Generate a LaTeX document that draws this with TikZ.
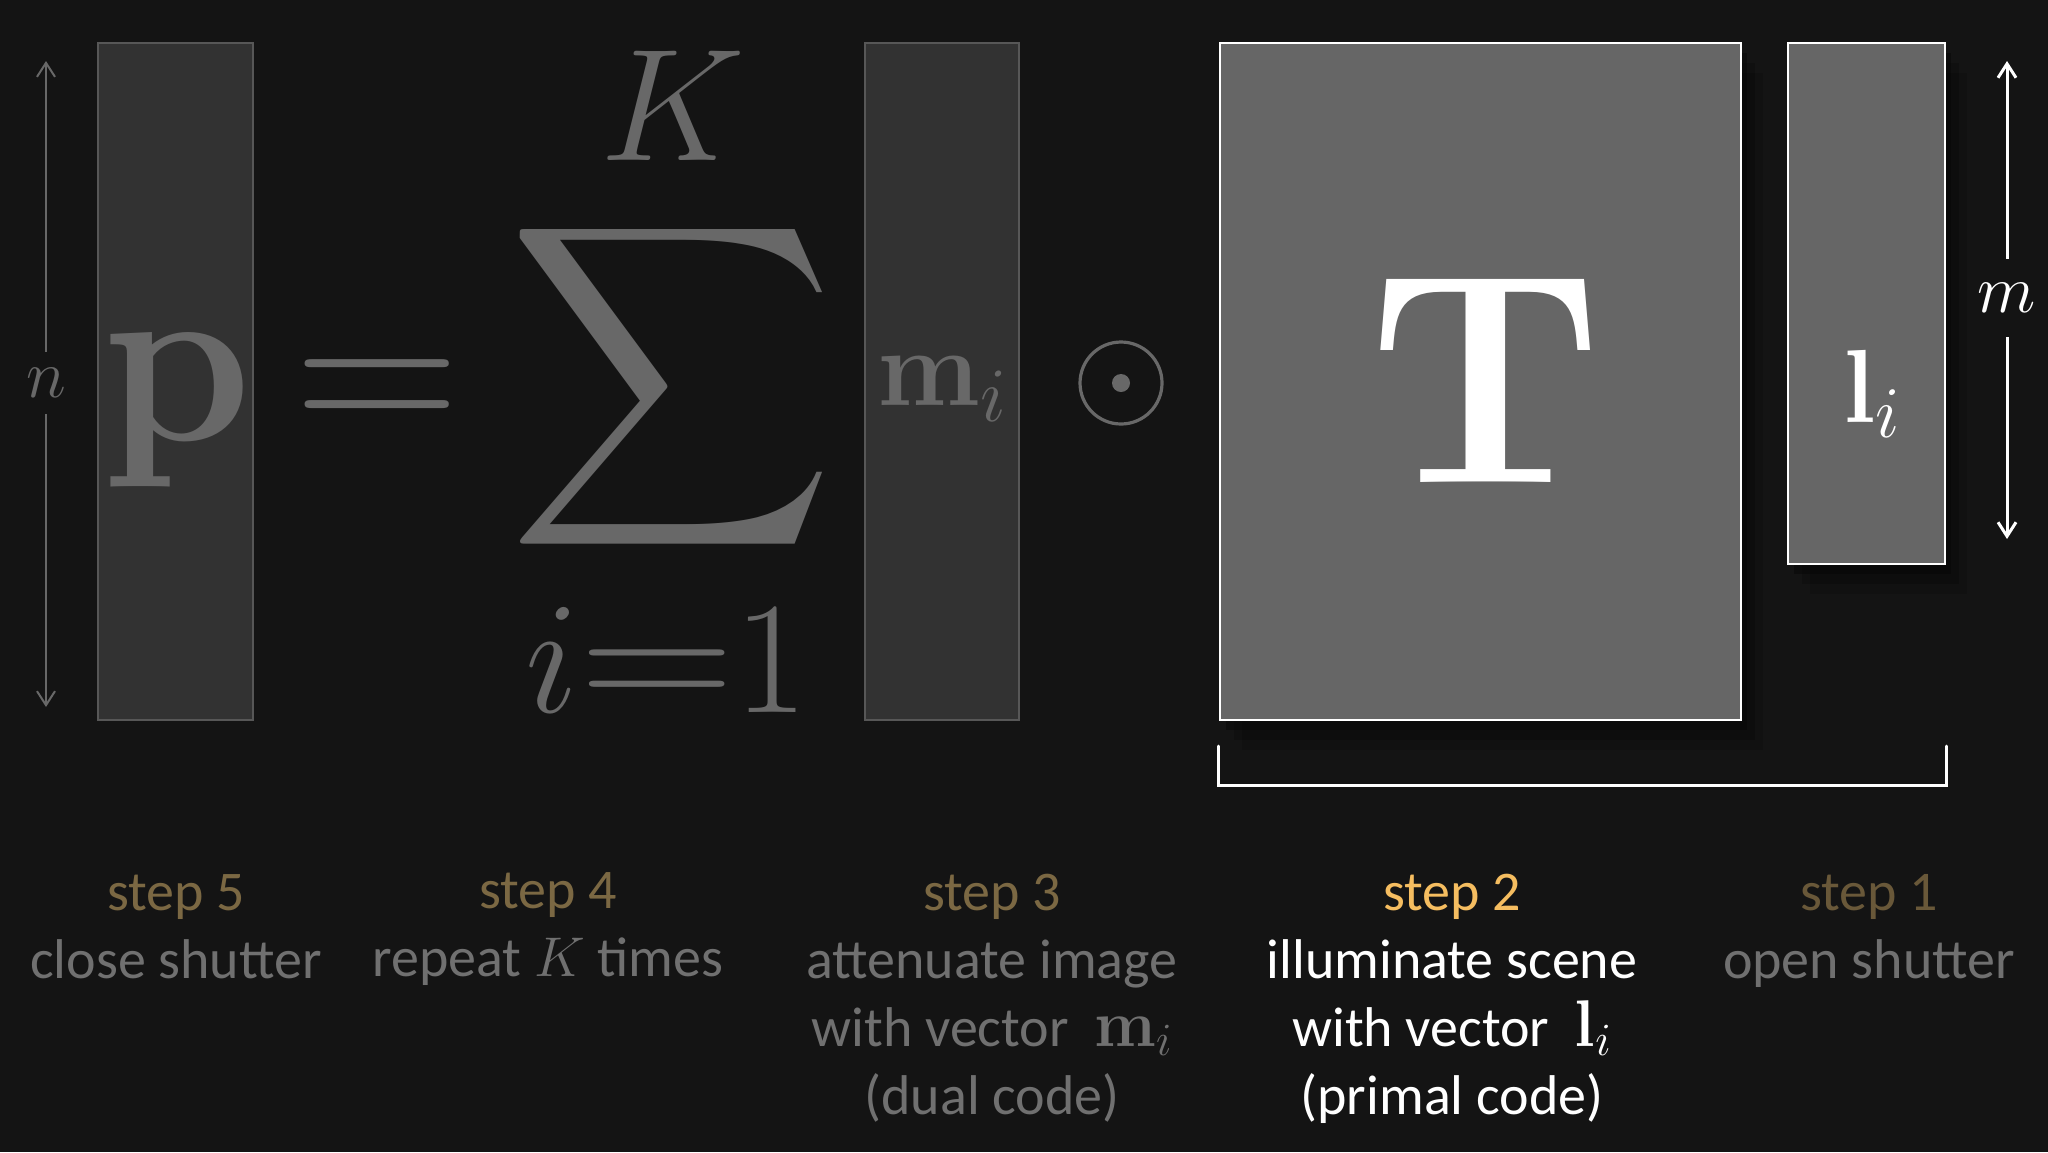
\RequirePackage{fix-cm}
\documentclass[tikz,border=0pt]{standalone}
\usepackage{amsmath}
\usepackage{graphicx}
\usepackage[no-math]{fontspec}
\setmainfont{Carlito}
\usetikzlibrary{arrows.meta}
\usetikzlibrary{shadows}

\definecolor{bgcol}{HTML}{141414}
\definecolor{eqgray}{HTML}{686868}
\definecolor{barfill}{HTML}{323232}
\definecolor{bargray}{HTML}{575757}
\definecolor{litfill}{HTML}{666666}
\definecolor{dimtext}{HTML}{707070}
\definecolor{dimgold}{HTML}{7b6843}
\definecolor{brightgold}{HTML}{f5bd60}

\newcommand{\vecmath}[1]{{\fontsize{33}{34}\selectfont$#1$}}

\begin{document}
\begin{tikzpicture}[x=0.5pt,y=-0.5pt,
    eqtext/.style={text=eqgray, inner sep=0pt},
    darkbar/.style={draw=bargray, fill=barfill, line width=1pt, inner sep=0pt,
      minimum width=77.5pt, minimum height=338.5pt},
    litbar/.style={draw=white, fill=litfill, line width=1.2pt, inner sep=0pt,
      drop shadow={shadow xshift=11pt, shadow yshift=-15pt, opacity=.15, fill=black},
      drop shadow={shadow xshift=7pt, shadow yshift=-10pt, opacity=.2, fill=black},
      drop shadow={shadow xshift=3pt, shadow yshift=-5pt, opacity=.3, fill=black}},
    dimarrow/.style={line width=1pt, -{Straight Barb[length=7pt,width=9pt]}},
    bracket/.style={draw=white, line width=1.5pt, line cap=round},
    steptext/.style={align=center, anchor=base, inner sep=0pt, text=dimtext,
      font=\fontsize{28}{34}\selectfont}]
  \fill[bgcol] (0,0) rectangle (2048,1152);
  \useasboundingbox (0,0) rectangle (2048,1152);

  % left hand side
  \node[darkbar] (pbar) at (175.5,381.5) {};
  \node[eqtext, anchor=base, font=\fontsize{120}{120}\selectfont] (p) at (177,440) {$\mathbf{p}$};
  \node[eqtext, font=\fontsize{34}{34}\selectfont, inner sep=8pt] (n) at (46,383) {$n$};
  \coordinate (ntop) at (46,61);
  \coordinate (nbot) at (46,707);
  \draw[dimarrow, draw=eqgray] (n) -- (ntop);
  \draw[dimarrow, draw=eqgray] (n) -- (nbot);

  % sum
  \node[eqtext, anchor=base, font=\fontsize{115}{115}\selectfont] (eq) at (377,441) {$=$};
  \node[eqtext] (sum) at (672,387) {\resizebox{164pt}{118pt}{$\displaystyle\sum$}};
  \node[eqtext, font=\fontsize{80}{80}\selectfont] (K) at (673,106) {$K$};
  \node[eqtext, font=\fontsize{80}{80}\selectfont] (lo) at (667,660) {$i\scalebox{1.35}[1.1]{$=$}1$};

  % dual code
  \node[darkbar, minimum width=77pt] (mbar) at (942,381.5) {};
  \node[eqtext, anchor=base, font=\fontsize{55}{55}\selectfont] (mvec) at (942,405) {$\mathbf{m}_i$};
  \node[circle, draw=eqgray, line width=1.6pt, minimum size=41pt, inner sep=0pt] (odot) at (1121,383) {};
  \fill[eqgray] (odot.center) circle[radius=4.5pt];

  % transport matrix and primal code
  \node[litbar, minimum width=260.5pt, minimum height=338.5pt] (Tbox) at (1480.5,381.5) {};
  \node[inner sep=0pt, text=white, font=\fontsize{150}{150}\selectfont] (T) at (1486,380) {$\mathbf{T}$};
  \node[litbar, minimum width=78.5pt, minimum height=260.5pt] (lbox) at (1866.5,303.5) {};
  \node[anchor=base, inner sep=0pt, text=white, font=\fontsize{52}{52}\selectfont] (lvec) at (1872,422) {$\mathbf{l}_i$};
  \node[text=white, font=\fontsize{34}{34}\selectfont, inner sep=12pt] (mlab) at (2007,298) {$m$};
  \coordinate (mtop) at (2007,61);
  \coordinate (mbot) at (2007,539);
  \draw[dimarrow, draw=white, line width=1.5pt] (mlab) -- (mtop);
  \draw[dimarrow, draw=white, line width=1.5pt] (mlab) -- (mbot);
  \draw[bracket] (Tbox.west |- 0,746) -- (Tbox.west |- 0,785) -- (lbox.east |- 0,785) -- (lbox.east |- 0,746);

  % steps (anchored at the last line)
  \node[steptext] (s5) at (176,978) {\textcolor{dimgold}{step 5}\\close shutter};
  \node[steptext] (s4) at (548,976) {\textcolor{dimgold}{step 4}\\repeat $K$ times};
  \node[steptext] (s3) at (992,1114) {\textcolor{dimgold}{step 3}\\attenuate image\\with vector\ \ \vecmath{\mathbf{m}_i}\\(dual code)};
  \node[steptext, text=white] (s2) at (1452,1114) {\textcolor{brightgold}{step 2}\\illuminate scene\\with vector\ \ \vecmath{\mathbf{l}_i}\\(primal code)};
  \node[steptext] (s1) at (1869,978) {\textcolor{dimgold!85!black}{step 1}\\open shutter};
\end{tikzpicture}
\end{document}
